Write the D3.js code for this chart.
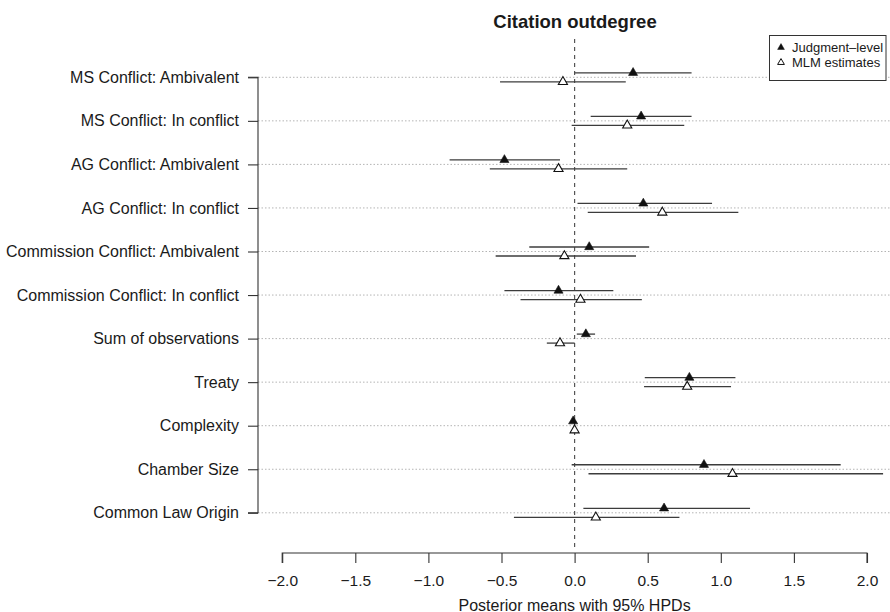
<!DOCTYPE html>
<html>
<head>
<meta charset="utf-8">
<script src="https://cdn.jsdelivr.net/npm/d3@7"></script>
<style>
  html, body { margin: 0; padding: 0; background: #fff; }
  svg { display: block; }
  text { font-family: "Liberation Sans", Arial, Helvetica, sans-serif; fill: #1a1a1a; }
</style>
</head>
<body>
<svg id="chart" width="890" height="612"></svg>
<script>
// ---- data ----
const categories = [
  "MS Conflict: Ambivalent",
  "MS Conflict: In conflict",
  "AG Conflict: Ambivalent",
  "AG Conflict: In conflict",
  "Commission Conflict: Ambivalent",
  "Commission Conflict: In conflict",
  "Sum of observations",
  "Treaty",
  "Complexity",
  "Chamber Size",
  "Common Law Origin"
];
const judgmentMean = [0.40, 0.455, -0.48, 0.47, 0.10, -0.11, 0.077, 0.785, -0.01, 0.885, 0.612];
const judgmentLow  = [0.00, 0.11, -0.855, 0.02, -0.31, -0.48, 0.015, 0.48, -0.025, -0.02, 0.06];
const judgmentHigh = [0.80, 0.80, -0.10, 0.94, 0.51, 0.265, 0.14, 1.10, 0.005, 1.82, 1.20];
const mlmMean = [-0.08, 0.36, -0.11, 0.60, -0.07, 0.04, -0.10, 0.77, 0.0, 1.08, 0.145];
const mlmLow  = [-0.51, -0.02, -0.58, 0.09, -0.54, -0.37, -0.19, 0.475, -0.01, 0.095, -0.415];
const mlmHigh = [0.35, 0.75, 0.36, 1.12, 0.42, 0.46, 0.0, 1.07, 0.01, 2.11, 0.717];
const xTicks = [-2.0, -1.5, -1.0, -0.5, 0.0, 0.5, 1.0, 1.5, 2.0];
const title = "Citation outdegree";
const xLabel = "Posterior means with 95% HPDs";
const legendLabels = ["Judgment\u2013level", "MLM estimates"];

// ---- layout ----
const svg = d3.select("#chart");
const x = d3.scaleLinear().domain([-2, 2]).range([282.2, 867]);
const y = d3.scalePoint().domain(categories).range([77.3, 512.8]);
const plotLeft = 258, plotRight = 890, plotTop = 39, plotBottom = 550;
const axisY = 553;
const offJ = -4.5, offM = 4.5;

// gridlines
svg.append("g").selectAll("line").data(categories).join("line")
  .attr("x1", plotLeft).attr("x2", plotRight)
  .attr("y1", d => y(d)).attr("y2", d => y(d))
  .attr("stroke", "#b4b4b4").attr("stroke-width", 1)
  .attr("stroke-dasharray", "1.5,2");

// zero line
svg.append("line")
  .attr("x1", x(0)).attr("x2", x(0))
  .attr("y1", plotTop).attr("y2", plotBottom)
  .attr("stroke", "#555").attr("stroke-width", 1.2)
  .attr("stroke-dasharray", "4,4");

// y axis
const yAxis = d3.axisLeft(y).tickSize(10).tickPadding(9);
const gy = svg.append("g").attr("transform", `translate(${plotLeft},0)`).call(yAxis);
gy.select(".domain").attr("d", `M-10,${y(categories[0])}H0V${y(categories[categories.length-1])}H-10`)
  .attr("stroke", "#333").attr("stroke-width", 1.1).attr("fill", "none");
gy.selectAll(".tick line").attr("stroke", "#333").attr("stroke-width", 1.1);
gy.selectAll(".tick text").attr("font-size", 16).attr("fill", "#1a1a1a")
  .attr("font-family", '"Liberation Sans", Arial, sans-serif');

// x axis
const xAxis = d3.axisBottom(x).tickValues(xTicks).tickSize(10).tickPadding(12)
  .tickFormat(d => d3.format(".1f")(d).replace("-", "\u2212"));
const gx = svg.append("g").attr("transform", `translate(0,${axisY})`).call(xAxis);
gx.select(".domain").attr("d", `M${x(-2)},10V0H${x(2)}V10`)
  .attr("stroke", "#333").attr("stroke-width", 1.1).attr("fill", "none");
gx.selectAll(".tick line").attr("stroke", "#333").attr("stroke-width", 1.1);
gx.selectAll(".tick text").attr("font-size", 15.5).attr("fill", "#1a1a1a")
  .attr("font-family", '"Liberation Sans", Arial, sans-serif');

// intervals
const rows = categories.map((c, i) => ({c, jm: judgmentMean[i], jl: judgmentLow[i], jh: judgmentHigh[i],
  mm: mlmMean[i], ml: mlmLow[i], mh: mlmHigh[i]}));

svg.append("g").selectAll("line").data(rows).join("line")
  .attr("x1", d => x(d.jl)).attr("x2", d => x(d.jh))
  .attr("y1", d => y(d.c) + offJ).attr("y2", d => y(d.c) + offJ)
  .attr("stroke", "#3c3c3c").attr("stroke-width", 1.3);
svg.append("g").selectAll("line").data(rows).join("line")
  .attr("x1", d => x(d.ml)).attr("x2", d => x(d.mh))
  .attr("y1", d => y(d.c) + offM).attr("y2", d => y(d.c) + offM)
  .attr("stroke", "#3c3c3c").attr("stroke-width", 1.3);

const tri = d3.symbol().type(d3.symbolTriangle).size(36);
svg.append("g").selectAll("path").data(rows).join("path")
  .attr("d", tri)
  .attr("transform", d => `translate(${x(d.jm)},${y(d.c) + offJ})`)
  .attr("fill", "#111").attr("stroke", "#111").attr("stroke-width", 0.6);
svg.append("g").selectAll("path").data(rows).join("path")
  .attr("d", tri)
  .attr("transform", d => `translate(${x(d.mm)},${y(d.c) + offM})`)
  .attr("fill", "#fff").attr("stroke", "#111").attr("stroke-width", 1.1);

// title
svg.append("text").attr("x", 575).attr("y", 27.5).attr("text-anchor", "middle")
  .attr("font-size", 18.5).attr("font-weight", "bold").text(title);

// x label
svg.append("text").attr("x", x(0)).attr("y", 610.5).attr("text-anchor", "middle")
  .attr("font-size", 16).text(xLabel);

// legend
const lg = svg.append("g");
lg.append("rect").attr("x", 769.5).attr("y", 35.5).attr("width", 116.5).attr("height", 45)
  .attr("fill", "#fff").attr("stroke", "#333").attr("stroke-width", 1);
const legTri = d3.symbol().type(d3.symbolTriangle).size(20);
const legY = [47.5, 62.5];
lg.selectAll("path").data(legendLabels).join("path")
  .attr("d", legTri)
  .attr("transform", (d, i) => `translate(781,${legY[i]})`)
  .attr("fill", (d, i) => i === 0 ? "#111" : "#fff")
  .attr("stroke", "#111").attr("stroke-width", (d, i) => i === 0 ? 0.5 : 1);
lg.selectAll("text").data(legendLabels).join("text")
  .attr("x", 792).attr("y", (d, i) => legY[i]).attr("dy", "0.36em")
  .attr("font-size", 13).text(d => d);
</script>
</body>
</html>
